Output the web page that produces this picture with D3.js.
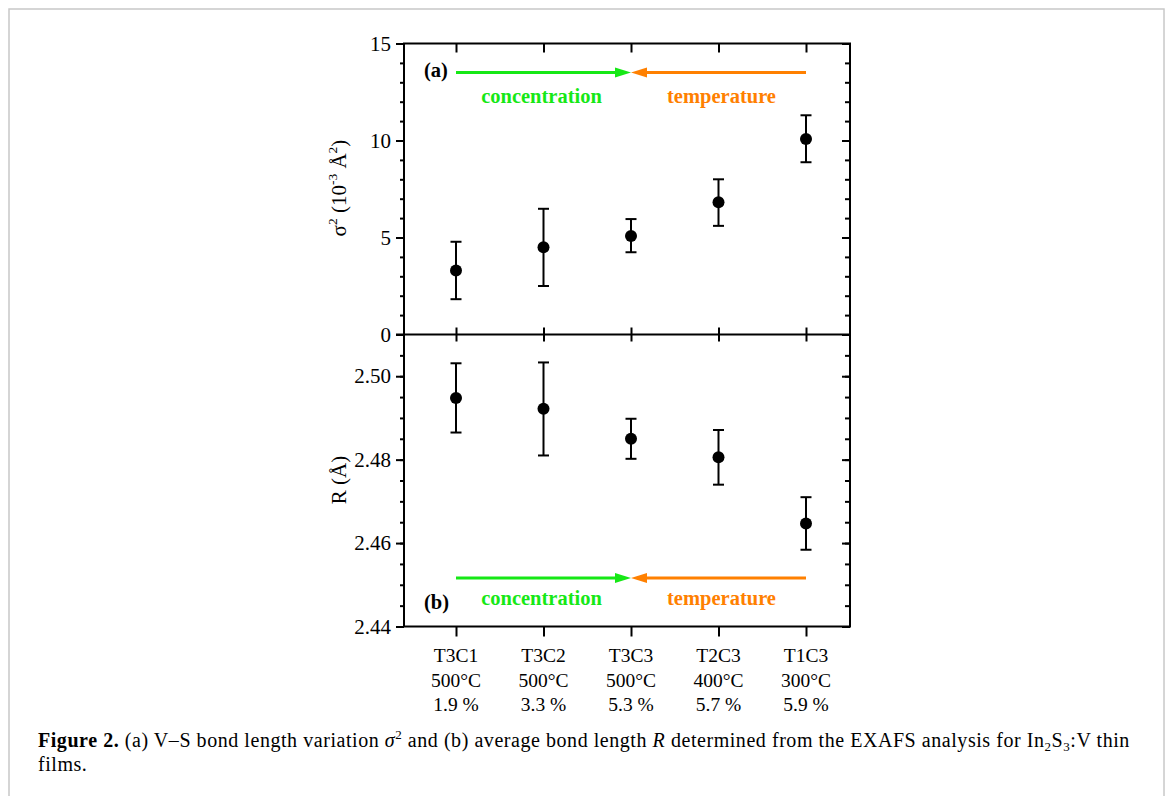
<!DOCTYPE html>
<html><head><meta charset="utf-8">
<script src="https://cdn.jsdelivr.net/npm/d3@7"></script>
<style>body{margin:0;background:#fff}svg{display:block}text{font-family:"Liberation Serif","Times New Roman",serif}</style>
</head><body>
<svg id="c" width="1168" height="796"></svg>
<script>
const categories = ["T3C1","T3C2","T3C3","T2C3","T1C3"];
const temps = ["500°C","500°C","500°C","400°C","300°C"];
const concs = ["1.9 %","3.3 %","5.3 %","5.7 %","5.9 %"];
const sigma2 = [3.30, 4.50, 5.08, 6.82, 10.08];
const sigma2Lo = [1.82, 2.50, 4.24, 5.60, 8.88];
const sigma2Hi = [4.78, 6.48, 5.95, 8.00, 11.30];
const bondR = [2.4948, 2.4922, 2.4850, 2.4806, 2.4647];
const bondRLo = [2.4865, 2.4810, 2.4802, 2.4740, 2.4584];
const bondRHi = [2.5031, 2.5033, 2.4898, 2.4871, 2.4710];
const sigmaTicks = [0,5,10,15];
const rTicks = [2.44,2.46,2.48,2.50];

const svg = d3.select("#c");
svg.append("rect").attr("x",9).attr("y",9).attr("width",1155).attr("height",800)
  .attr("fill","none").attr("stroke","#c8c8c8").attr("stroke-width",1.5);

const L=404,R=850,T=43.5,M=334.5,B=626.5;
const x = d3.scalePoint().domain(categories).range([456,806]);
const yA = d3.scaleLinear().domain([0,15]).range([M,T]);
const yB = d3.scaleLinear().domain([2.44,2.51]).range([B,M]);
const green="#16e816", orange="#ff8000";

function yAxes(y, majors, minors, fmt){
  const gl = svg.append("g").attr("transform",`translate(${L},0)`);
  gl.call(d3.axisLeft(y).tickValues(minors).tickSize(4).tickFormat(""));
  gl.select(".domain").remove();
  const gl2 = svg.append("g").attr("transform",`translate(${L},0)`);
  gl2.call(d3.axisLeft(y).tickValues(majors).tickSize(8).tickPadding(5).tickFormat(fmt));
  gl2.select(".domain").remove();
  const gr = svg.append("g").attr("transform",`translate(${R},0)`);
  gr.call(d3.axisRight(y).tickValues(minors).tickSize(-5).tickFormat(""));
  gr.select(".domain").remove();
  const gr2 = svg.append("g").attr("transform",`translate(${R},0)`);
  gr2.call(d3.axisRight(y).tickValues(majors).tickSize(-8).tickFormat(""));
  gr2.select(".domain").remove();
  svg.selectAll(".tick line").attr("stroke","#000").attr("stroke-width",2);
  svg.selectAll(".tick text").attr("font-size",21).attr("fill","#000").style("font-family",'"Liberation Serif",serif');
}
yAxes(yA, sigmaTicks, d3.range(0,15.01,1), d3.format("d"));
yAxes(yB, rTicks, d3.range(0,15).map(i=>2.44+i*0.005), d3.format(".2f"));

// frames
svg.append("rect").attr("x",L).attr("y",T).attr("width",R-L).attr("height",B-T)
  .attr("fill","none").attr("stroke","#000").attr("stroke-width",2);
svg.append("line").attr("x1",L-8).attr("x2",R).attr("y1",M).attr("y2",M).attr("stroke","#000").attr("stroke-width",2);

// category ticks
const gt = svg.append("g").attr("transform",`translate(0,${T})`);
gt.call(d3.axisTop(x).tickSize(-9).tickFormat("")); gt.select(".domain").remove();
const gm = svg.append("g").attr("transform",`translate(0,${M+7})`);
gm.call(d3.axisTop(x).tickSize(14).tickFormat("")); gm.select(".domain").remove();
const gb = svg.append("g").attr("transform",`translate(0,${B})`);
gb.call(d3.axisBottom(x).tickSize(10).tickFormat("")); gb.select(".domain").remove();
svg.selectAll(".tick line").attr("stroke","#000").attr("stroke-width",2);

// category labels
const lab = svg.append("g");
categories.forEach((c,i)=>{
  const t = lab.append("text").attr("text-anchor","middle").attr("font-size",19.5).attr("fill","#000");
  [c,temps[i],concs[i]].forEach((s,j)=>t.append("tspan").attr("x",x(c)).attr("y",662+j*24.5).text(s));
});

// error bars & points
function series(y, vals, lo, hi){
  const g = svg.append("g");
  categories.forEach((c,i)=>{
    const cx=x(c);
    g.append("line").attr("x1",cx).attr("x2",cx).attr("y1",y(lo[i])).attr("y2",y(hi[i])).attr("stroke","#000").attr("stroke-width",2);
    [lo[i],hi[i]].forEach(v=>g.append("line").attr("x1",cx-5.5).attr("x2",cx+5.5).attr("y1",y(v)).attr("y2",y(v)).attr("stroke","#000").attr("stroke-width",2));
    g.append("circle").attr("cx",cx).attr("cy",y(vals[i])).attr("r",6).attr("fill","#000");
  });
}
series(yA, sigma2, sigma2Lo, sigma2Hi);
series(yB, bondR, bondRLo, bondRHi);

// arrows
function arrow(x1,x2,yy,col){
  const dir = Math.sign(x2-x1), hl=16, hw=5;
  svg.append("line").attr("x1",x1).attr("x2",x2-dir*hl).attr("y1",yy).attr("y2",yy).attr("stroke",col).attr("stroke-width",3);
  svg.append("path").attr("d",`M${x2},${yy}L${x2-dir*hl},${yy-hw}L${x2-dir*hl},${yy+hw}Z`).attr("fill",col);
}
function arrowsPanel(yy, ylab){
  arrow(x("T3C1"), x("T3C3"), yy, green);
  arrow(x("T1C3"), x("T3C3"), yy, orange);
  svg.append("text").attr("x",(x("T3C1")+x("T3C3"))/2-2).attr("y",ylab).attr("text-anchor","middle")
    .attr("font-size",20.5).attr("font-weight","bold").attr("fill",green).text("concentration");
  svg.append("text").attr("x",x("T2C3")+3).attr("y",ylab).attr("text-anchor","middle")
    .attr("font-size",20.5).attr("font-weight","bold").attr("fill",orange).text("temperature");
}
arrowsPanel(yA(13.5), 103);
arrowsPanel(yB(2.4516), 605);
svg.append("text").attr("x",424).attr("y",77).attr("font-size",20.5).attr("font-weight","bold").text("(a)");
svg.append("text").attr("x",424).attr("y",609).attr("font-size",20.5).attr("font-weight","bold").text("(b)");

// y titles
const t1 = svg.append("text").attr("transform","translate(346,188) rotate(-90)").attr("text-anchor","middle").attr("font-size",21);
t1.append("tspan").text("σ");
t1.append("tspan").attr("font-size",13.5).attr("dy",-9).text("2");
t1.append("tspan").attr("dy",9).text(" (10");
t1.append("tspan").attr("font-size",13.5).attr("dy",-9).text("-3");
t1.append("tspan").attr("dy",9).text(" Å");
t1.append("tspan").attr("font-size",13.5).attr("dy",-9).text("2");
t1.append("tspan").attr("dy",9).text(")");
svg.append("text").attr("transform","translate(346,480) rotate(-90)").attr("text-anchor","middle").attr("font-size",21).text("R  (Å)");

// caption
const cap = svg.append("text").attr("x",38).attr("y",747).attr("font-size",20).attr("letter-spacing",0.55).attr("fill","#000");
cap.append("tspan").attr("font-weight","bold").text("Figure 2.");
cap.append("tspan").text(" (a) V–S bond length variation ");
cap.append("tspan").attr("font-style","italic").text("σ");
cap.append("tspan").attr("font-size",13).attr("dy",-8).text("2");
cap.append("tspan").attr("dy",8).text(" and (b) average bond length ");
cap.append("tspan").attr("font-style","italic").text("R");
cap.append("tspan").text(" determined from the EXAFS analysis for In");
cap.append("tspan").attr("font-size",13).attr("dy",4).text("2");
cap.append("tspan").attr("dy",-4).text("S");
cap.append("tspan").attr("font-size",13).attr("dy",4).text("3");
cap.append("tspan").attr("dy",-4).text(":V thin");
svg.append("text").attr("x",38).attr("y",771).attr("font-size",20).attr("letter-spacing",0.55).text("films.");
</script>
</body></html>
